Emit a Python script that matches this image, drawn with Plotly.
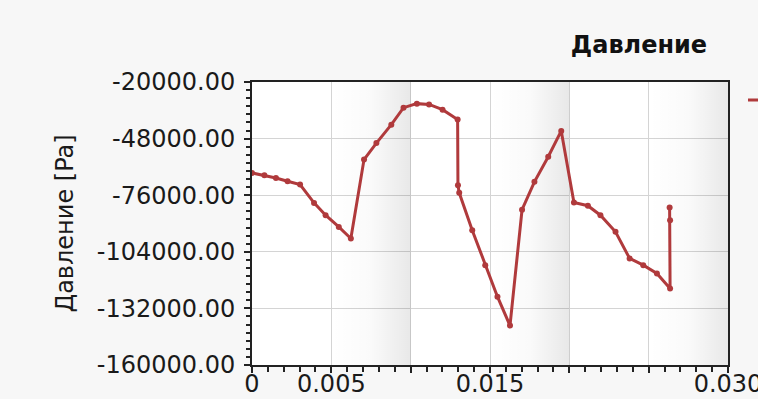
import plotly.graph_objects as go

# Pressure history: time [s] vs pressure [Pa]
time_s = [
    0.0000, 0.00078, 0.00151, 0.00224, 0.00303, 0.00391, 0.00464, 0.00547,
    0.00623, 0.00706, 0.00784, 0.00878, 0.00955, 0.01039, 0.01116, 0.01201,
    0.01296, 0.01298, 0.01306, 0.01388, 0.01470, 0.01547, 0.01626, 0.01702,
    0.01780, 0.01867, 0.01949, 0.02029, 0.02117, 0.02196, 0.02291, 0.02380,
    0.02466, 0.02552, 0.02635, 0.02635, 0.02632,
]
pressure_pa = [
    -65000, -66100, -67500, -69100, -70700, -79800, -85900, -91700,
    -97400, -58400, -50200, -41100, -32700, -30700, -31100, -33700,
    -38600, -71100, -74800, -93300, -110600, -126200, -140500, -83200,
    -69400, -57000, -44200, -79600, -81200, -85900, -94100, -107300,
    -110600, -114700, -122100, -88400, -82100,
]

series_name = "Давление"
chart_title = "Давление"
y_title = "Давление [Pa]"

x_tick_vals = [0.0, 0.005, 0.010, 0.015, 0.020, 0.025, 0.030]
x_tick_text = ["0", "0.005", "", "0.015", "", "", "0.030"]
y_tick_vals = [-20000, -48000, -76000, -104000, -132000, -160000]
y_tick_text = ["-20000.00", "-48000.00", "-76000.00", "-104000.00",
               "-132000.00", "-160000.00"]

x_range = [x_tick_vals[0], x_tick_vals[-1]]
y_range = [y_tick_vals[-1], y_tick_vals[0]]

LINE_COLOR = "#b03a3c"
FONT = "DejaVu Sans"

fig = go.Figure()

# soft glossy shading: a horizontal fade ending on every second grid line
for end in x_tick_vals[2::2]:
    start = end - 0.005
    fig.add_trace(go.Scatter(
        x=[start, end, end, start, start],
        y=[y_range[0], y_range[0], y_range[1], y_range[1], y_range[0]],
        mode="none",
        fill="toself",
        fillgradient=dict(
            type="horizontal",
            colorscale=[[0, "rgba(0,0,0,0)"], [0.5, "rgba(0,0,0,0.02)"],
                        [1, "rgba(0,0,0,0.09)"]],
        ),
        hoverinfo="skip",
        showlegend=False,
    ))

fig.add_trace(go.Scatter(
    x=time_s,
    y=pressure_pa,
    mode="lines+markers",
    name=series_name,
    line=dict(color=LINE_COLOR, width=3),
    marker=dict(color=LINE_COLOR, size=6),
    showlegend=True,
))

axis_common = dict(
    showline=True,
    linecolor="#222222",
    linewidth=2,
    mirror=True,
    showgrid=True,
    gridcolor="#d4d4d4",
    gridwidth=1,
    zeroline=False,
    ticks="outside",
    tickcolor="#222222",
    ticklen=6,
    tickwidth=1.5,
    ticklabeloverflow="allow",
    tickfont=dict(family=FONT, size=24, color="#1a1a1a"),
)

fig.update_xaxes(
    range=x_range,
    tickmode="array",
    tickvals=x_tick_vals,
    ticktext=x_tick_text,
    ticklabelstandoff=-10,
    minor=dict(dtick=0.001, ticks="outside", ticklen=5, tickcolor="#222222",
               tickwidth=1.5, showgrid=False),
    **axis_common,
)
fig.update_yaxes(
    range=y_range,
    tickmode="array",
    tickvals=y_tick_vals,
    ticktext=y_tick_text,
    ticklabelstandoff=4,
    minor=dict(dtick=4000, tick0=-20000, ticks="outside", ticklen=4,
               tickcolor="#222222", tickwidth=1.5, showgrid=False),
    title=dict(text=y_title, font=dict(family=FONT, size=24, color="#1a1a1a"),
               standoff=16),
    **axis_common,
)

fig.update_layout(
    width=758,
    height=399,
    autosize=False,
    margin=dict(l=252, r=30, t=82, b=34, pad=0, autoexpand=False),
    paper_bgcolor="#f7f7f7",
    plot_bgcolor="#ffffff",
    title=dict(
        text=chart_title,
        font=dict(family=FONT, size=24, color="#111111", weight="bold"),
        x=0.843, xanchor="center",
        y=0.887, yanchor="middle",
    ),
    legend=dict(
        x=1.0315, xanchor="left",
        y=0.936, yanchor="middle",
        bgcolor="rgba(0,0,0,0)",
        borderwidth=0,
        font=dict(family=FONT, size=20, color="#111111"),
    ),
)

fig.write_html("out.html")
